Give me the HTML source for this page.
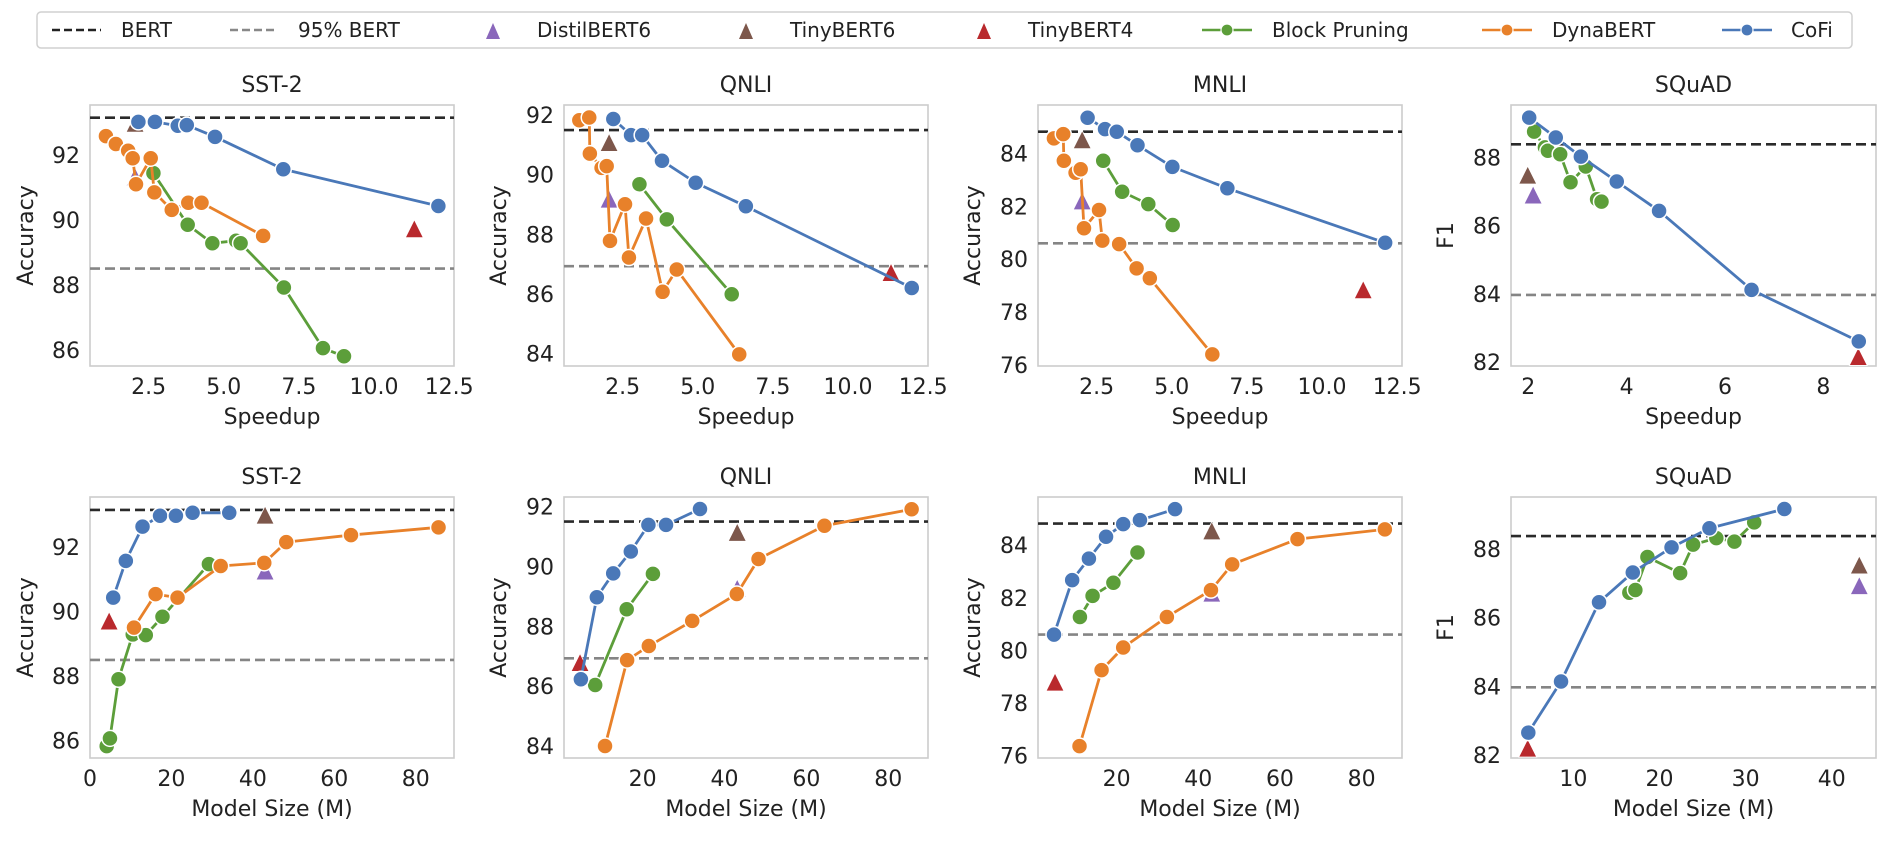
<!DOCTYPE html>
<html><head><meta charset="utf-8">
<style>
html,body{margin:0;padding:0;background:#fff;}
svg{display:block;font-family:"DejaVu Sans","Liberation Sans",sans-serif;}
</style></head>
<body>
<svg id="fig" width="1890" height="841" viewBox="0 0 1890 841" xmlns="http://www.w3.org/2000/svg">
<g id="legend">
<rect x="37" y="12" width="1815" height="36" rx="4" fill="#fff" stroke="#d0d0d0" stroke-width="1.5"/>
<line x1="52" y1="30" x2="101" y2="30" stroke="#222" stroke-width="2.5" stroke-dasharray="8,4"/>
<text x="121" y="37" font-size="20" fill="#222">BERT</text>
<line x1="230" y1="30" x2="278" y2="30" stroke="#888" stroke-width="2.5" stroke-dasharray="8,4"/>
<text x="298" y="37" font-size="20" fill="#222">95% BERT</text>
<polygon points="486,39 500,39 493,23" fill="#8a67bb"/>
<text x="537" y="37" font-size="20" fill="#222">DistilBERT6</text>
<polygon points="739,39 753,39 746,23" fill="#7d574b"/>
<text x="790" y="37" font-size="20" fill="#222">TinyBERT6</text>
<polygon points="977,39 991,39 984,23" fill="#b9292d"/>
<text x="1028" y="37" font-size="20" fill="#222">TinyBERT4</text>
<line x1="1202" y1="30" x2="1252" y2="30" stroke="#5c9e3a" stroke-width="2.5"/><circle cx="1227" cy="30" r="6" fill="#5c9e3a" stroke="#fff" stroke-width="1.2"/>
<text x="1272" y="37" font-size="20" fill="#222">Block Pruning</text>
<line x1="1482" y1="30" x2="1532" y2="30" stroke="#e8812a" stroke-width="2.5"/><circle cx="1507" cy="30" r="6" fill="#e8812a" stroke="#fff" stroke-width="1.2"/>
<text x="1552" y="37" font-size="20" fill="#222">DynaBERT</text>
<line x1="1722" y1="30" x2="1772" y2="30" stroke="#4a78b8" stroke-width="2.5"/><circle cx="1747" cy="30" r="6" fill="#4a78b8" stroke="#fff" stroke-width="1.2"/>
<text x="1791" y="37" font-size="20" fill="#222">CoFi</text>
</g>
</svg>
<script>
// ---- data (top row: speedup) ----
const sst2SpeedBert = 93.15, sst2SpeedBert95 = 88.5;
const sst2SpeedCofiX = [2.16,2.71,3.47,3.77,4.71,6.98,12.14];
const sst2SpeedCofiY = [93.02,93.02,92.9,92.92,92.56,91.56,90.43];
const sst2SpeedDynaX = [1.08,1.41,1.82,1.97,2.08,2.57,2.69,3.27,3.82,4.26,6.31];
const sst2SpeedDynaY = [92.58,92.34,92.13,91.9,91.1,91.9,90.85,90.31,90.53,90.53,89.51];
const sst2SpeedBlockX = [2.66,3.8,4.62,5.41,5.56,7.0,8.3,9.0];
const sst2SpeedBlockY = [91.44,89.85,89.28,89.36,89.28,87.92,86.05,85.8];
const sst2SpeedTri = [[2.05,91.3],[2.05,92.95],[11.34,89.7]]; // distil, tiny6, tiny4

const qnliSpeedBert = 91.5, qnliSpeedBert95 = 86.93;
const qnliSpeedCofiX = [2.19,2.78,3.15,3.81,4.93,6.6,12.12];
const qnliSpeedCofiY = [91.87,91.33,91.33,90.47,89.73,88.94,86.2];
const qnliSpeedDynaX = [1.06,1.39,1.41,1.80,1.97,2.08,2.58,2.71,3.28,3.83,4.3,6.38];
const qnliSpeedDynaY = [91.83,91.92,90.71,90.23,90.29,87.78,89.01,87.22,88.53,86.07,86.82,83.97];
const qnliSpeedBlockX = [3.06,3.97,6.13];
const qnliSpeedBlockY = [89.68,88.5,85.99];
const qnliSpeedTri = [[2.05,89.15],[2.05,91.05],[11.43,86.69]];

const mnliSpeedBert = 84.82, mnliSpeedBert95 = 80.6;
const mnliSpeedCofiX = [2.2,2.78,3.17,3.86,5.02,6.85,12.1];
const mnliSpeedCofiY = [85.35,84.92,84.82,84.31,83.49,82.68,80.62];
const mnliSpeedDynaX = [1.08,1.39,1.41,1.8,1.97,2.08,2.58,2.69,3.25,3.83,4.27,6.35];
const mnliSpeedDynaY = [84.57,84.73,83.72,83.27,83.4,81.17,81.86,80.7,80.57,79.65,79.28,76.4];
const mnliSpeedBlockX = [2.72,3.35,4.22,5.03];
const mnliSpeedBlockY = [83.72,82.55,82.08,81.29];
const mnliSpeedTri = [[2.02,82.17],[2.02,84.48],[11.37,78.81]];

const squadSpeedBert = 88.38, squadSpeedBert95 = 83.97;
const squadSpeedCofiX = [2.02,2.56,3.07,3.8,4.66,6.54,8.72];
const squadSpeedCofiY = [89.16,88.58,88.02,87.29,86.43,84.12,82.61];
const squadSpeedDynaX = [];
const squadSpeedDynaY = [];
const squadSpeedBlockX = [2.12,2.34,2.4,2.65,2.86,3.17,3.4,3.49];
const squadSpeedBlockY = [88.75,88.29,88.19,88.09,87.27,87.73,86.77,86.7];
const squadSpeedTri = [[2.1,86.87],[1.99,87.45],[8.71,82.14]];

// ---- data (bottom row: model size) ----
const sst2SizeBert = 93.15, sst2SizeBert95 = 88.5;
const sst2SizeCofiX = [5.7,8.8,12.9,17.2,21.1,25.2,34.2];
const sst2SizeCofiY = [90.43,91.57,92.63,92.97,92.97,93.06,93.06];
const sst2SizeDynaX = [10.8,16.1,21.5,32.1,42.8,48.2,64.1,85.6];
const sst2SizeDynaY = [89.5,90.54,90.43,91.41,91.51,92.15,92.37,92.61];
const sst2SizeBlockX = [4.1,4.9,7.0,10.5,13.7,17.8,29.2];
const sst2SizeBlockY = [85.83,86.07,87.9,89.29,89.27,89.84,91.47];
const sst2SizeTri = [[43,91.23],[43,92.96],[4.7,89.68]];

const qnliSizeBert = 91.5, qnliSizeBert95 = 86.93;
const qnliSizeCofiX = [4.9,8.8,12.8,17.1,21.4,25.7,34.0];
const qnliSizeCofiY = [86.23,88.97,89.77,90.5,91.39,91.39,91.92];
const qnliSizeDynaX = [10.8,16.2,21.5,32.1,43.0,48.3,64.4,85.7];
const qnliSizeDynaY = [84.0,86.87,87.34,88.18,89.08,90.25,91.36,91.91];
const qnliSizeBlockX = [8.4,16.1,22.5];
const qnliSizeBlockY = [86.04,88.57,89.75];
const qnliSizeTri = [[43.1,89.24],[43.1,91.11],[4.7,86.76]];

const mnliSizeBert = 84.82, mnliSizeBert95 = 80.6;
const mnliSizeCofiX = [4.65,9.1,13.2,17.4,21.6,25.7,34.3];
const mnliSizeCofiY = [80.6,82.67,83.49,84.32,84.8,84.95,85.37];
const mnliSizeDynaX = [10.9,16.3,21.6,32.3,43.1,48.3,64.3,85.7];
const mnliSizeDynaY = [76.36,79.25,80.11,81.27,82.29,83.27,84.23,84.6];
const mnliSizeBlockX = [11.0,14.1,19.2,25.1];
const mnliSizeBlockY = [81.27,82.07,82.57,83.72];
const mnliSizeTri = [[43.3,82.14],[43.3,84.51],[4.9,78.76]];

const squadSizeBert = 88.38, squadSizeBert95 = 83.97;
const squadSizeCofiX = [4.77,8.57,12.98,16.9,21.4,25.8,34.5];
const squadSizeCofiY = [82.65,84.14,86.45,87.32,88.05,88.61,89.17];
const squadSizeDynaX = [];
const squadSizeDynaY = [];
const squadSizeBlockX = [16.5,17.2,18.6,22.4,23.9,26.6,28.7,31.0];
const squadSizeBlockY = [86.73,86.81,87.77,87.3,88.13,88.32,88.22,88.78];
const squadSizeTri = [[43.2,86.91],[43.2,87.51],[4.7,82.17]];

const speedTicks = [2.5,5.0,7.5,10.0,12.5];
const speedTickLabels = ["2.5","5.0","7.5","10.0","12.5"];
const squadSpeedTicks = [2,4,6,8];
const sizeTicksFull = [0,20,40,60,80];
const sizeTicks = [20,40,60,80];
const squadSizeTicks = [10,20,30,40];
const sst2YTicks = [86,88,90,92];
const qnliYTicks = [84,86,88,90,92];
const mnliYTicks = [76,78,80,82,84];
const squadYTicks = [82,84,86,88];

const C = {cofi:"#4a78b8", dyna:"#e8812a", block:"#5c9e3a", distil:"#8a67bb", tiny6:"#7d574b", tiny4:"#b9292d"};
const NS = "http://www.w3.org/2000/svg";
const svg = document.getElementById('fig');
function mk(tag, attrs, parent){const e=document.createElementNS(NS,tag);for(const k in attrs)e.setAttribute(k,attrs[k]);(parent||svg).appendChild(e);return e;}

const panels = [
 {id:"sst2-speedup",title:"SST-2",box:[90,105,454,366],xd:[0.55,12.66],yd:[85.5,93.54],xt:speedTicks,xl:speedTickLabels,yt:sst2YTicks,ylab:"Accuracy",xlab:"Speedup",ylx:25,bert:sst2SpeedBert,b95:sst2SpeedBert95,cx:sst2SpeedCofiX,cy:sst2SpeedCofiY,dx:sst2SpeedDynaX,dy:sst2SpeedDynaY,bx:sst2SpeedBlockX,by:sst2SpeedBlockY,tri:sst2SpeedTri},
 {id:"qnli-speedup",title:"QNLI",box:[564,105,928,366],xd:[0.55,12.66],yd:[83.58,92.34],xt:speedTicks,xl:speedTickLabels,yt:qnliYTicks,ylab:"Accuracy",xlab:"Speedup",ylx:498,bert:qnliSpeedBert,b95:qnliSpeedBert95,cx:qnliSpeedCofiX,cy:qnliSpeedCofiY,dx:qnliSpeedDynaX,dy:qnliSpeedDynaY,bx:qnliSpeedBlockX,by:qnliSpeedBlockY,tri:qnliSpeedTri},
 {id:"mnli-speedup",title:"MNLI",box:[1038,105,1402,366],xd:[0.55,12.66],yd:[75.96,85.83],xt:speedTicks,xl:speedTickLabels,yt:mnliYTicks,ylab:"Accuracy",xlab:"Speedup",ylx:972,bert:mnliSpeedBert,b95:mnliSpeedBert95,cx:mnliSpeedCofiX,cy:mnliSpeedCofiY,dx:mnliSpeedDynaX,dy:mnliSpeedDynaY,bx:mnliSpeedBlockX,by:mnliSpeedBlockY,tri:mnliSpeedTri},
 {id:"squad-speedup",title:"SQuAD",box:[1511,105,1876,366],xd:[1.65,9.07],yd:[81.89,89.53],xt:squadSpeedTicks,xl:squadSpeedTicks.map(String),yt:squadYTicks,ylab:"F1",xlab:"Speedup",ylx:1445,bert:squadSpeedBert,b95:squadSpeedBert95,cx:squadSpeedCofiX,cy:squadSpeedCofiY,dx:squadSpeedDynaX,dy:squadSpeedDynaY,bx:squadSpeedBlockX,by:squadSpeedBlockY,tri:squadSpeedTri},
 {id:"sst2-size",title:"SST-2",box:[90,497,454,758],xd:[0,89.4],yd:[85.46,93.55],xt:sizeTicksFull,xl:sizeTicksFull.map(String),yt:sst2YTicks,ylab:"Accuracy",xlab:"Model Size (M)",ylx:25,bert:sst2SizeBert,b95:sst2SizeBert95,cx:sst2SizeCofiX,cy:sst2SizeCofiY,dx:sst2SizeDynaX,dy:sst2SizeDynaY,bx:sst2SizeBlockX,by:sst2SizeBlockY,tri:sst2SizeTri},
 {id:"qnli-size",title:"QNLI",box:[564,497,928,758],xd:[0.78,89.7],yd:[83.6,92.32],xt:sizeTicks,xl:sizeTicks.map(String),yt:qnliYTicks,ylab:"Accuracy",xlab:"Model Size (M)",ylx:498,bert:qnliSizeBert,b95:qnliSizeBert95,cx:qnliSizeCofiX,cy:qnliSizeCofiY,dx:qnliSizeDynaX,dy:qnliSizeDynaY,bx:qnliSizeBlockX,by:qnliSizeBlockY,tri:qnliSizeTri},
 {id:"mnli-size",title:"MNLI",box:[1038,497,1402,758],xd:[0.73,89.9],yd:[75.91,85.83],xt:sizeTicks,xl:sizeTicks.map(String),yt:mnliYTicks,ylab:"Accuracy",xlab:"Model Size (M)",ylx:972,bert:mnliSizeBert,b95:mnliSizeBert95,cx:mnliSizeCofiX,cy:mnliSizeCofiY,dx:mnliSizeDynaX,dy:mnliSizeDynaY,bx:mnliSizeBlockX,by:mnliSizeBlockY,tri:mnliSizeTri},
 {id:"squad-size",title:"SQuAD",box:[1511,497,1876,758],xd:[2.76,45.14],yd:[81.91,89.52],xt:squadSizeTicks,xl:squadSizeTicks.map(String),yt:squadYTicks,ylab:"F1",xlab:"Model Size (M)",ylx:1445,bert:squadSizeBert,b95:squadSizeBert95,cx:squadSizeCofiX,cy:squadSizeCofiY,dx:squadSizeDynaX,dy:squadSizeDynaY,bx:squadSizeBlockX,by:squadSizeBlockY,tri:squadSizeTri}
];

panels.forEach(p=>{
  const [L,T,R,B]=p.box;
  const X=v=>L+(v-p.xd[0])/(p.xd[1]-p.xd[0])*(R-L);
  const Y=v=>B-(v-p.yd[0])/(p.yd[1]-p.yd[0])*(B-T);
  const g=mk('g',{});
  
  
  const clipId='clip-'+p.id;
  const cp=mk('clipPath',{id:clipId},g); mk('rect',{x:L,y:T,width:R-L,height:B-T},cp);
  const frame=mk('rect',{x:L,y:T,width:R-L,height:B-T,fill:"none",stroke:"#cccccc","stroke-width":1.6},g);
  
  
  const t=mk('text',{x:(L+R)/2,y:T-13,"font-size":22,"text-anchor":"middle",fill:"#222"},g); t.textContent=p.title;
  
  
  p.yt.forEach(v=>{const e=mk('text',{x:L-10,y:Y(v)+8,"font-size":22,"text-anchor":"end",fill:"#222"},g);e.textContent=String(v);
    
    });
  p.xt.forEach((v,i)=>{const e=mk('text',{x:X(v),y:B+28,"font-size":22,"text-anchor":"middle",fill:"#222"},g);e.textContent=p.xl[i];
    
    });
  const xl=mk('text',{x:(L+R)/2,y:B+58,"font-size":22,"text-anchor":"middle",fill:"#222"},g); xl.textContent=p.xlab;
  
  
  const yl=mk('text',{x:p.ylx+8,y:(T+B)/2,"font-size":22,"text-anchor":"middle",fill:"#222",transform:`rotate(-90 ${p.ylx+8} ${(T+B)/2})`},g); yl.textContent=p.ylab;
  
  
  const pg=mk('g',{"clip-path":`url(#${clipId})`},g);
  const hb=mk('line',{x1:L,x2:R,y1:Y(p.bert),y2:Y(p.bert),stroke:"#2a2a2a","stroke-width":2.6,"stroke-dasharray":"10,5"},pg);
  
  
  const h95=mk('line',{x1:L,x2:R,y1:Y(p.b95),y2:Y(p.b95),stroke:"#858585","stroke-width":2.6,"stroke-dasharray":"10,5"},pg);
  
  
  const tcol=[C.distil,C.tiny6,C.tiny4], tname=['distilbert6-marker','tinybert6-marker','tinybert4-marker'];
  p.tri.forEach((d,i)=>{const x=X(d[0]),y=Y(d[1]);
    const e=mk('polygon',{points:`${x-9},${y+8} ${x+9},${y+8} ${x},${y-10}`,fill:tcol[i],stroke:"#fff","stroke-width":0.8},pg);
    
    });
  const series=[[p.bx,p.by,C.block,'block-pruning'],[p.dx,p.dy,C.dyna,'dynabert'],[p.cx,p.cy,C.cofi,'cofi']];
  series.forEach(([xs,ys,col,name])=>{
    if(!xs.length) return;
    const pts=xs.map((v,i)=>X(v)+','+Y(ys[i])).join(' ');
    const l=mk('polyline',{points:pts,fill:"none",stroke:col,"stroke-width":2.8,"stroke-linejoin":"round"},pg);
    
    
    xs.forEach((v,i)=>{const c=mk('circle',{cx:X(v),cy:Y(ys[i]),r:8,fill:col,stroke:"#fff","stroke-width":1.5},pg);
      
      });
  });
});
</script>
</body></html>
